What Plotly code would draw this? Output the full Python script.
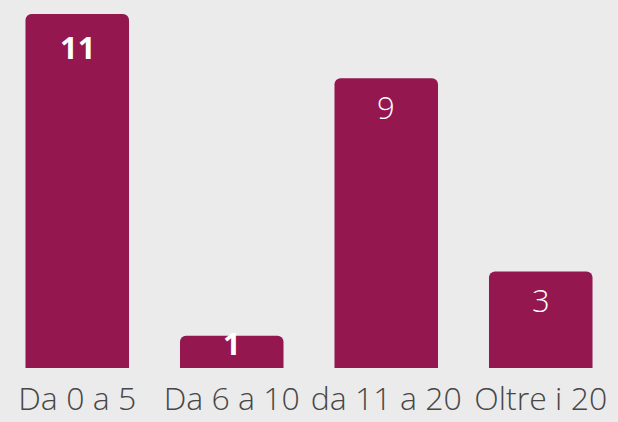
import plotly.graph_objects as go

categories = ["Da 0 a 5", "Da 6 a 10", "da 11 a 20", "Oltre i 20"]
values = [11, 1, 9, 3]

# style per label: bold or not, vertical offset from the bar top (px)
label_bold = [True, True, False, False]
label_shift = [-33, -7, -29, -29]

BAR = "#95174f"
BG = "#ebebeb"
FONT = "Open Sans"

fig = go.Figure(
    go.Bar(
        x=categories,
        y=values,
        marker=dict(color=BAR, cornerradius=6, line=dict(width=0)),
        hoverinfo="skip",
    )
)

for c, v, b, s in zip(categories, values, label_bold, label_shift):
    fig.add_annotation(
        x=c, y=v, text=str(v), showarrow=False,
        yanchor="middle", yshift=s,
        font=dict(family=FONT, size=31, color="white", weight=700 if b else 300),
    )

fig.update_layout(
    width=618, height=422,
    margin=dict(l=0, r=0, t=14, b=54),
    paper_bgcolor=BG, plot_bgcolor=BG,
    bargap=0.33,
    showlegend=False,
    font=dict(family=FONT, color="#474747"),
)
fig.update_xaxes(
    showgrid=False, zeroline=False, showline=False, ticks="",
    automargin=False,
    ticklabelstandoff=9,
    tickfont=dict(family=FONT, size=32, color="#474747", weight=300),
)
fig.update_yaxes(range=[0, 11], visible=False, showgrid=False, zeroline=False)

fig.write_html(
    "out.html",
    config={"displayModeBar": False},
    post_script="document.body.style.margin='0';document.body.style.background='#ebebeb';",
)
